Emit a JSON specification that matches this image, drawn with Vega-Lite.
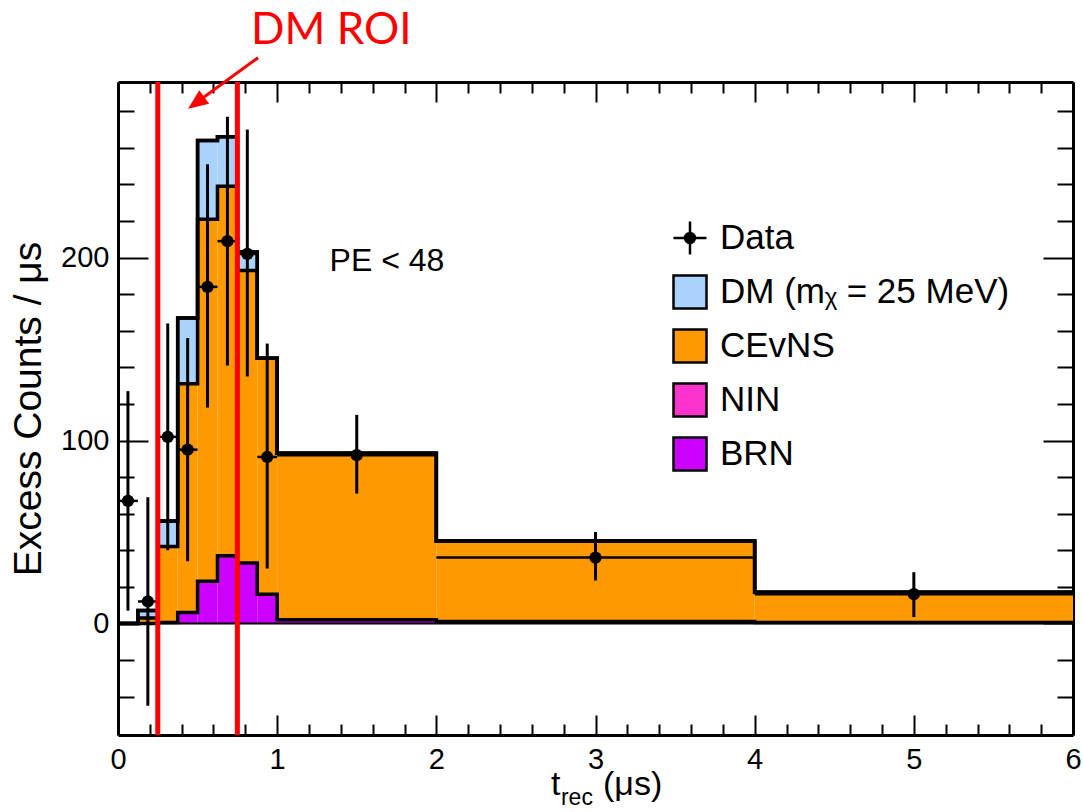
{
  "$schema": "https://vega.github.io/schema/vega-lite/v6.json",
  "width": 955,
  "height": 653,
  "autosize": {"type": "none"},
  "padding": {"left": 118, "top": 82, "right": 10, "bottom": 77},
  "background": "white",
  "datasets": {
    "hist": [
      {"lo": 0, "hi": 0.125, "BRN": 0, "NIN": 0, "CEvNS": 0, "DM": 0},
      {"lo": 0.125, "hi": 0.25, "BRN": 0, "NIN": 0, "CEvNS": 3, "DM": 4},
      {"lo": 0.25, "hi": 0.375, "BRN": 0.5, "NIN": 0, "CEvNS": 41.5, "DM": 14},
      {"lo": 0.375, "hi": 0.5, "BRN": 6, "NIN": 0, "CEvNS": 125, "DM": 36},
      {"lo": 0.5, "hi": 0.625, "BRN": 23, "NIN": 0, "CEvNS": 198, "DM": 43},
      {"lo": 0.625, "hi": 0.75, "BRN": 37, "NIN": 0, "CEvNS": 202, "DM": 27},
      {"lo": 0.75, "hi": 0.875, "BRN": 33, "NIN": 0, "CEvNS": 160, "DM": 10},
      {"lo": 0.875, "hi": 1, "BRN": 16, "NIN": 0, "CEvNS": 129, "DM": 0},
      {"lo": 1, "hi": 2, "BRN": 2, "NIN": 0, "CEvNS": 91, "DM": 0},
      {"lo": 2, "hi": 4, "BRN": 1, "NIN": 0, "CEvNS": 44, "DM": 0},
      {"lo": 4, "hi": 6, "BRN": 0.5, "NIN": 0, "CEvNS": 16.5, "DM": 0}
    ],
    "pts": [
      {"t": 0.0625, "counts": 67, "low": 7, "high": 127, "tlo": 0, "thi": 0.125},
      {"t": 0.1875, "counts": 12, "low": -45, "high": 69, "tlo": 0.125, "thi": 0.25},
      {"t": 0.3125, "counts": 102, "low": 40, "high": 164, "tlo": 0.25, "thi": 0.375},
      {"t": 0.4375, "counts": 95, "low": 34, "high": 156, "tlo": 0.375, "thi": 0.5},
      {"t": 0.5625, "counts": 184, "low": 118, "high": 251, "tlo": 0.5, "thi": 0.625},
      {"t": 0.6875, "counts": 209, "low": 141, "high": 277, "tlo": 0.625, "thi": 0.75},
      {"t": 0.8125, "counts": 202, "low": 135, "high": 270, "tlo": 0.75, "thi": 0.875},
      {"t": 0.9375, "counts": 91, "low": 30, "high": 153, "tlo": 0.875, "thi": 1},
      {"t": 1.5, "counts": 92, "low": 71, "high": 114, "tlo": 1, "thi": 2},
      {"t": 3, "counts": 36, "low": 23.5, "high": 50, "tlo": 2, "thi": 4},
      {"t": 5, "counts": 16, "low": 3.5, "high": 28, "tlo": 4, "thi": 6}
    ],
    "roi": [{"edge": 0.25}, {"edge": 0.75}],
    "one": [{}]
  },
  "resolve": {"axis": {"x": "independent", "y": "independent"}},
  "layer": [
    {
      "data": {"name": "hist"},
      "transform": [
        {"fold": ["BRN", "NIN", "CEvNS", "DM"], "as": ["component", "value"]},
        {"stack": "value", "groupby": ["lo"], "sort": [{"field": "component", "order": "ascending"}], "as": ["v0", "v1"]}
      ],
      "mark": {"type": "rect", "strokeWidth": 0},
      "encoding": {
        "x": {"field": "lo", "type": "quantitative", "scale": {"domain": [0, 6], "nice": false, "zero": false},
              "axis": {"orient": "bottom", "values": [0, 1, 2, 3, 4, 5, 6], "tickSize": -20, "labelPadding": 30, "title": null, "domain": true, "labelFlush": false, "format": "d"}},
        "x2": {"field": "hi"},
        "y": {"field": "v1", "type": "quantitative", "scale": {"domain": [-61, 296], "nice": false, "zero": false},
              "axis": {"orient": "left", "values": [0, 100, 200], "tickSize": -30, "labelPadding": 39, "format": "d", "title": "Excess Counts / μs", "titleFontSize": 39, "titlePadding": 12, "domain": true}},
        "y2": {"field": "v0"},
        "color": {
          "field": "component", "type": "nominal",
          "scale": {"domain": ["Data", "DM", "CEvNS", "NIN", "BRN"], "range": ["#000000", "#a9d3fb", "#ff9900", "#ff33cc", "#cc00ff"]},
          "legend": {
            "orient": "none", "legendX": 554, "legendY": 138, "title": null, "padding": 0,
            "symbolSize": 1089, "symbolStrokeColor": "black", "symbolStrokeWidth": 2.5, "symbolType": "square",
            "labelFont": "Liberation Sans", "labelFontSize": 35, "labelColor": "black", "labelOffset": 12, "rowPadding": 10, "labelLimit": 600,
            "labelExpr": "datum.label === 'DM' ? 'DM (mᵪ = 25 MeV)' : datum.label",
            "encode": {"symbols": {"update": {"shape": {"signal": "datum.value === 'Data' ? 'M-1,0H1M0,-1V1M0.3,0A0.3,0.3,0,1,1,-0.3,0A0.3,0.3,0,1,1,0.3,0Z' : 'square'"}, "opacity": {"value": 1}}}}
          }
        }
      }
    },
    {
      "data": {"name": "hist"},
      "transform": [
        {"fold": ["BRN", "NIN", "CEvNS", "DM"], "as": ["component", "value"]},
        {"stack": "value", "groupby": ["lo"], "sort": [{"field": "component", "order": "ascending"}], "as": ["v0", "v1"]},
        {"fold": ["lo", "hi"], "as": ["edge", "ex"]}
      ],
      "mark": {"type": "line", "color": "black", "strokeWidth": 3.5, "strokeJoin": "miter", "strokeCap": "butt"},
      "encoding": {
        "x": {"field": "ex", "type": "quantitative", "scale": {"domain": [0, 6], "nice": false, "zero": false},
              "axis": {"orient": "bottom", "values": [0.2, 0.4, 0.6, 0.8, 1.2, 1.4, 1.6, 1.8, 2.2, 2.4, 2.6, 2.8, 3.2, 3.4, 3.6, 3.8, 4.2, 4.4, 4.6, 4.8, 5.2, 5.4, 5.6, 5.8], "tickSize": -11, "labels": false, "domain": false, "title": null}},
        "y": {"field": "v1", "type": "quantitative", "scale": {"domain": [-61, 296], "nice": false, "zero": false},
              "axis": {"orient": "left", "values": [-40, -20, 20, 40, 60, 80, 120, 140, 160, 180, 220, 240, 260, 280], "tickSize": -16, "labels": false, "domain": false, "title": null}},
        "detail": {"field": "component"},
        "order": [{"field": "ex", "type": "quantitative"}, {"field": "edge", "type": "nominal"}]
      }
    },
    {
      "data": {"name": "one"},
      "mark": {"type": "rule", "color": "black", "strokeWidth": 2},
      "encoding": {
        "y": {"datum": 0, "type": "quantitative", "scale": {"domain": [-61, 296], "nice": false, "zero": false}, "axis": null}
      }
    },
    {
      "data": {"name": "pts"},
      "mark": {"type": "rule", "color": "black", "strokeWidth": 3},
      "encoding": {
        "x": {"field": "t", "type": "quantitative", "scale": {"domain": [0, 6], "nice": false, "zero": false},
              "axis": {"orient": "top", "values": [0, 1, 2, 3, 4, 5, 6], "tickSize": -20, "labels": false, "domain": true, "title": null}},
        "y": {"field": "low", "type": "quantitative", "scale": {"domain": [-61, 296], "nice": false, "zero": false},
              "axis": {"orient": "right", "values": [0, 100, 200], "tickSize": -30, "labels": false, "domain": true, "title": null}},
        "y2": {"field": "high"}
      }
    },
    {
      "data": {"name": "pts"},
      "mark": {"type": "rule", "color": "black", "strokeWidth": 2.5},
      "encoding": {
        "x": {"field": "tlo", "type": "quantitative", "scale": {"domain": [0, 6], "nice": false, "zero": false}, "axis": null},
        "x2": {"field": "thi"},
        "y": {"field": "counts", "type": "quantitative", "scale": {"domain": [-61, 296], "nice": false, "zero": false}, "axis": null}
      }
    },
    {
      "data": {"name": "pts"},
      "mark": {"type": "point", "shape": "circle", "filled": true, "color": "black", "size": 150, "opacity": 1},
      "encoding": {
        "x": {"field": "t", "type": "quantitative", "scale": {"domain": [0, 6], "nice": false, "zero": false},
              "axis": {"orient": "top", "values": [0.2, 0.4, 0.6, 0.8, 1.2, 1.4, 1.6, 1.8, 2.2, 2.4, 2.6, 2.8, 3.2, 3.4, 3.6, 3.8, 4.2, 4.4, 4.6, 4.8, 5.2, 5.4, 5.6, 5.8], "tickSize": -11, "labels": false, "domain": false, "title": null}},
        "y": {"field": "counts", "type": "quantitative", "scale": {"domain": [-61, 296], "nice": false, "zero": false},
              "axis": {"orient": "right", "values": [-40, -20, 20, 40, 60, 80, 120, 140, 160, 180, 220, 240, 260, 280], "tickSize": -16, "labels": false, "domain": false, "title": null}}
      }
    },
    {
      "data": {"name": "roi"},
      "mark": {"type": "rule", "color": "#ff0000", "strokeWidth": 5},
      "encoding": {
        "x": {"field": "edge", "type": "quantitative", "scale": {"domain": [0, 6], "nice": false, "zero": false}, "axis": null}
      }
    },
    {
      "data": {"name": "one"},
      "mark": {"type": "text", "text": "PE < 48", "font": "Liberation Sans", "fontSize": 32, "color": "black", "align": "center", "baseline": "middle"},
      "encoding": {
        "x": {"datum": 1.69, "type": "quantitative", "scale": {"domain": [0, 6], "nice": false, "zero": false}, "axis": null},
        "y": {"datum": 198, "type": "quantitative", "scale": {"domain": [-61, 296], "nice": false, "zero": false}, "axis": null}
      }
    },
    {
      "data": {"name": "one"},
      "mark": {"type": "text", "text": "DM ROI", "font": "Lato", "fontSize": 44, "color": "#ff0000", "align": "center", "baseline": "middle"},
      "encoding": {
        "x": {"datum": 1.34, "type": "quantitative", "scale": {"domain": [0, 6], "nice": false, "zero": false}, "axis": null},
        "y": {"datum": 324, "type": "quantitative", "scale": {"domain": [-61, 296], "nice": false, "zero": false}, "axis": null}
      }
    },
    {
      "data": {"name": "one"},
      "mark": {"type": "rule", "color": "#ff0000", "strokeWidth": 3},
      "encoding": {
        "x": {"datum": 0.88, "type": "quantitative", "scale": {"domain": [0, 6], "nice": false, "zero": false}, "axis": null},
        "x2": {"datum": 0.5},
        "y": {"datum": 309.3, "type": "quantitative", "scale": {"domain": [-61, 296], "nice": false, "zero": false}, "axis": null},
        "y2": {"datum": 285.2}
      }
    },
    {
      "data": {"name": "one"},
      "mark": {"type": "point", "shape": "M0,0L-1,-0.42L-1,0.42Z", "filled": true, "color": "#ff0000", "opacity": 1, "size": 1600, "angle": 144},
      "encoding": {
        "x": {"datum": 0.44, "type": "quantitative", "scale": {"domain": [0, 6], "nice": false, "zero": false}, "axis": null},
        "y": {"datum": 281.4, "type": "quantitative", "scale": {"domain": [-61, 296], "nice": false, "zero": false}, "axis": null}
      }
    },
    {
      "data": {"name": "one"},
      "mark": {"type": "text", "text": "t", "font": "Liberation Sans", "fontSize": 34, "color": "black", "align": "left", "baseline": "alphabetic"},
      "encoding": {
        "x": {"datum": 2.72, "type": "quantitative", "scale": {"domain": [0, 6], "nice": false, "zero": false}, "axis": null},
        "y": {"datum": -94, "type": "quantitative", "scale": {"domain": [-61, 296], "nice": false, "zero": false}, "axis": null}
      }
    },
    {
      "data": {"name": "one"},
      "mark": {"type": "text", "text": "rec", "font": "Liberation Sans", "fontSize": 23, "color": "black", "align": "left", "baseline": "alphabetic"},
      "encoding": {
        "x": {"datum": 2.783, "type": "quantitative", "scale": {"domain": [0, 6], "nice": false, "zero": false}, "axis": null},
        "y": {"datum": -99, "type": "quantitative", "scale": {"domain": [-61, 296], "nice": false, "zero": false}, "axis": null}
      }
    },
    {
      "data": {"name": "one"},
      "mark": {"type": "text", "text": "(μs)", "font": "Liberation Sans", "fontSize": 34, "color": "black", "align": "left", "baseline": "alphabetic"},
      "encoding": {
        "x": {"datum": 3.047, "type": "quantitative", "scale": {"domain": [0, 6], "nice": false, "zero": false}, "axis": null},
        "y": {"datum": -94, "type": "quantitative", "scale": {"domain": [-61, 296], "nice": false, "zero": false}, "axis": null}
      }
    }
  ],
  "config": {
    "view": {"stroke": null},
    "axis": {
      "labelFont": "Liberation Sans", "titleFont": "Liberation Sans", "labelColor": "black", "titleColor": "black",
      "tickColor": "black", "domainColor": "black", "grid": false, "labelFontSize": 29, "titleFontWeight": "normal",
      "tickWidth": 2, "domainWidth": 3, "zindex": 1, "labelFlush": false
    }
  }
}
